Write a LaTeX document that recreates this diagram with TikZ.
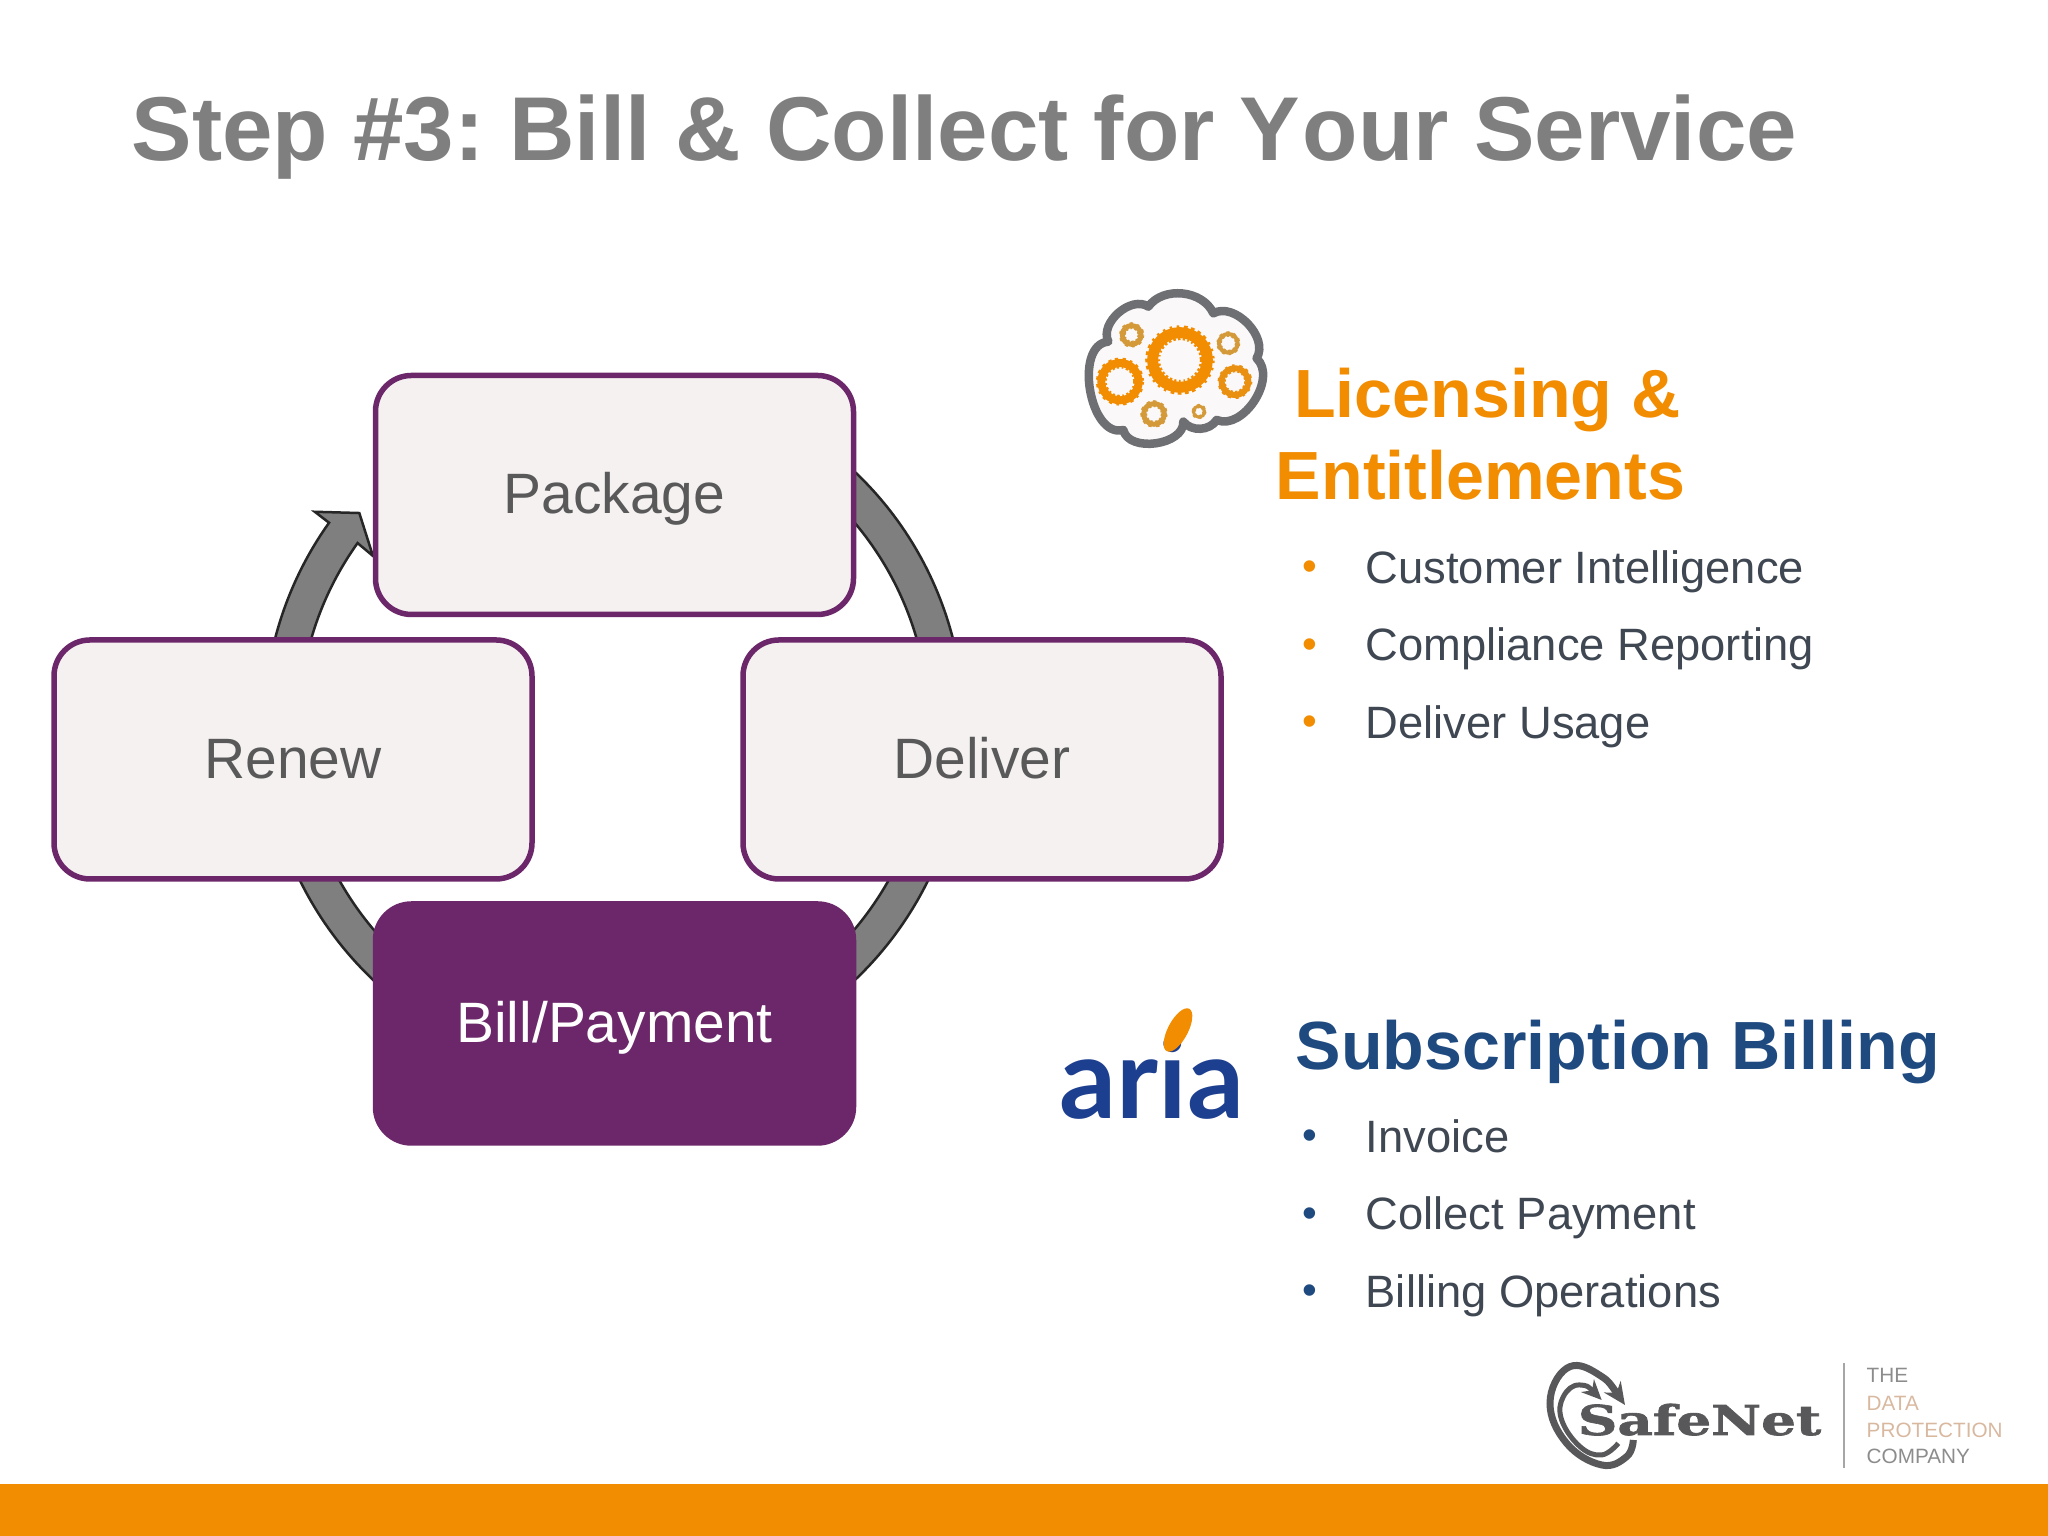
\documentclass[tikz,border=0pt]{standalone}
\usepackage{fontspec}
\setmainfont{Liberation Sans}
\newfontfamily\ariafont{Lato}
\newfontfamily\safefont[BoldFeatures={FakeBold=1.5}]{DejaVu Serif}
\usepackage{tikz}
\usetikzlibrary{arrows.meta,positioning,calc}

\definecolor{titlegray}{HTML}{7F7F7F}
\definecolor{textgray}{HTML}{595959}
\definecolor{listgray}{HTML}{3F4752}
\definecolor{plum}{HTML}{6B2769}
\definecolor{boxfill}{HTML}{F5F1F1}
\definecolor{barorange}{HTML}{F28C00}
\definecolor{headblue}{HTML}{1F4A80}
\definecolor{ariablue}{HTML}{1D3F8F}
\definecolor{cloudgray}{HTML}{6E6F73}
\definecolor{cogdull}{HTML}{D49A3A}
\definecolor{logogray}{HTML}{58585A}
\definecolor{tagorange}{HTML}{D9B8A0}

\newcommand{\cog}[5]{
  \draw[draw=#5, line width=1.35*#4cm, dash pattern=on 0.025cm off 0.035cm] (#1,#2) circle (#3);
  \draw[draw=#5, line width=#4cm] (#1,#2) circle (#3);
}

\begin{document}
\begin{tikzpicture}[
    font=\fontsize{16.2pt}{19pt}\selectfont,
    box/.style={draw=plum, line width=0.055cm, rounded corners=0.36cm, align=center, minimum width=4.78cm, minimum height=2.39cm, fill=boxfill, text=textgray, text height=0.41cm, text depth=0.03cm},
    ringarr/.style={draw=black!85, line width=0.025cm, fill=titlegray, line join=miter},
    head/.style={font=\fontsize{19.4pt}{23.4pt}\selectfont\bfseries, align=center, inner sep=0pt},
    item/.style={font=\fontsize{12.9pt}{15pt}\selectfont, text=listgray, anchor=west, inner sep=0pt, text height=0.34cm, text depth=0.09cm},
    dotor/.style={font=\fontsize{12pt}{14pt}\selectfont, text=barorange, inner sep=0pt, left=0.47cm},
    dotbl/.style={dotor, text=headblue},
    tag/.style={font=\fontsize{5.9pt}{7pt}\selectfont, anchor=west, inner sep=0pt, text height=0.16cm, text depth=0cm}
  ]
    \useasboundingbox (0,0) rectangle (20.48,15.36);
    \fill[barorange] (0,0) rectangle (20.48,0.52);

    \node[anchor=west, inner sep=0pt, text=titlegray, font=\fontsize{25.8pt}{30pt}\selectfont\bfseries] (Title) at (1.31,13.99) {Step \#3:\hspace{-0.085cm} Bill \& Collect for Y\kern0.025cm our Service};

    \coordinate (RingC) at (6.14,8.10);
    \draw[ringarr] ([shift={(60:3.5)}]RingC) arc[start angle=60, end angle=-215.5, radius=3.5]
      -- ([shift={(144.4:3.68)}]RingC) -- ([shift={(140.1:3.32)}]RingC) -- ([shift={(144.8:2.95)}]RingC)
      -- ([shift={(144.5:3.15)}]RingC) arc[start angle=-215.5, end angle=60, radius=3.15] -- cycle;

    \node[box] (P) at (6.145,10.41) {Package};
    \node[box, below right=0.20cm and -1.16cm of P] (D) {Deliver};
    \node[box, below left=0.20cm and -1.62cm of P] (R) {Renew};
    \node[box, below=2.84cm of P, fill=plum, text=white] (B) {Bill/Payment};

    \node[head, text=barorange] (Lic) at (14.805,11.02) {\hspace*{0.14cm}Licensing \&\\Entitlements};
    \node[item] (CI) at (13.65,9.65) {Customer Intelligence};
    \node[item, below=0.33cm of CI.south west, anchor=north west] (CR) {Compliance Reporting};
    \node[item, below=0.33cm of CR.south west, anchor=north west] (DU) {Deliver Usage};
    \node[dotor] at (CI.west) {•};
    \node[dotor] at (CR.west) {•};
    \node[dotor] at (DU.west) {•};

    \node[head, text=headblue, anchor=west] (Sub) at (12.95,4.835) {Subscription Billing};
    \node[item] (In) at (13.65,3.96) {Invoice};
    \node[item, below=0.33cm of In.south west, anchor=north west] (CP) {Collect Payment};
    \node[item, below=0.33cm of CP.south west, anchor=north west] (BO) {Billing Operations};
    \node[dotbl] at (In.west) {•};
    \node[dotbl] at (CP.west) {•};
    \node[dotbl] at (BO.west) {•};

    \begin{scope}[shift={(10.40,12.66)}, x=1cm/300, y=-1cm/300]
      \draw[draw=cloudgray, line width=0.085cm, fill=boxfill!50!white, line join=round]
        (205,215) to[bend left=75] (325,110) to[bend left=60] (520,130) to[bend left=75] (650,265)
        to[bend left=80] (530,450) to[bend left=55] (430,455) to[bend left=85] (250,480)
        to[bend left=95] cycle;
      \cog{420}{270}{82}{0.11}{barorange}
      \cog{240}{335}{56}{0.08}{barorange}
      \cog{585}{335}{40}{0.06}{barorange!70!cogdull}
      \cog{275}{195}{28}{0.05}{cogdull}
      \cog{565}{220}{28}{0.04}{cogdull}
      \cog{342}{432}{31}{0.05}{cogdull}
      \cog{477}{425}{17}{0.03}{cogdull}
    \end{scope}

    \node[anchor=base west, inner sep=0pt, text=ariablue, font=\fontsize{32pt}{36pt}\ariafont\bfseries\selectfont] (Aria) at (10.59,4.17) {aria};
    \fill[barorange, rotate around={-28:(11.78,5.06)}] (11.78,5.06) ellipse (0.1cm and 0.24cm);

    \begin{scope}[shift={(15.30,1.96)}, x=1cm/300, y=-1cm/300]
      \draw[draw=logogray, line width=0.07cm, {Stealth[length=0.22cm, width=0.2cm]}-] plot[smooth, tension=0.7] coordinates {(285,195) (200,100) (110,85) (60,190) (110,310) (215,375) (290,350) (310,300)};
      \draw[draw=logogray, line width=0.05cm, {Stealth[length=0.2cm, width=0.18cm]}-] plot[smooth, tension=0.7] coordinates {(215,180) (150,135) (100,170) (95,240) (150,320) (215,345) (265,310)};
    \end{scope}
    \node[anchor=base west, inner sep=0pt, xscale=1.33, transform shape, text=logogray, font=\fontsize{11.7pt}{14pt}\safefont\bfseries\selectfont] (Safe) at (15.77,1.01) {SafeNet};

    \coordinate (SepT) at (18.44,1.73);
    \coordinate (SepB) at (18.44,0.68);
    \draw[draw=black!35, line width=0.015cm] (SepT) -- (SepB);
    \node[tag, text=black!45] (T1) at (18.66,1.61) {THE};
    \node[tag, text=tagorange] (T2) at (18.66,1.33) {DATA};
    \node[tag, text=tagorange] (T3) at (18.66,1.06) {PROTECTION};
    \node[tag, text=black!45] (T4) at (18.66,0.80) {COMPANY};
  \end{tikzpicture}
\end{document}
